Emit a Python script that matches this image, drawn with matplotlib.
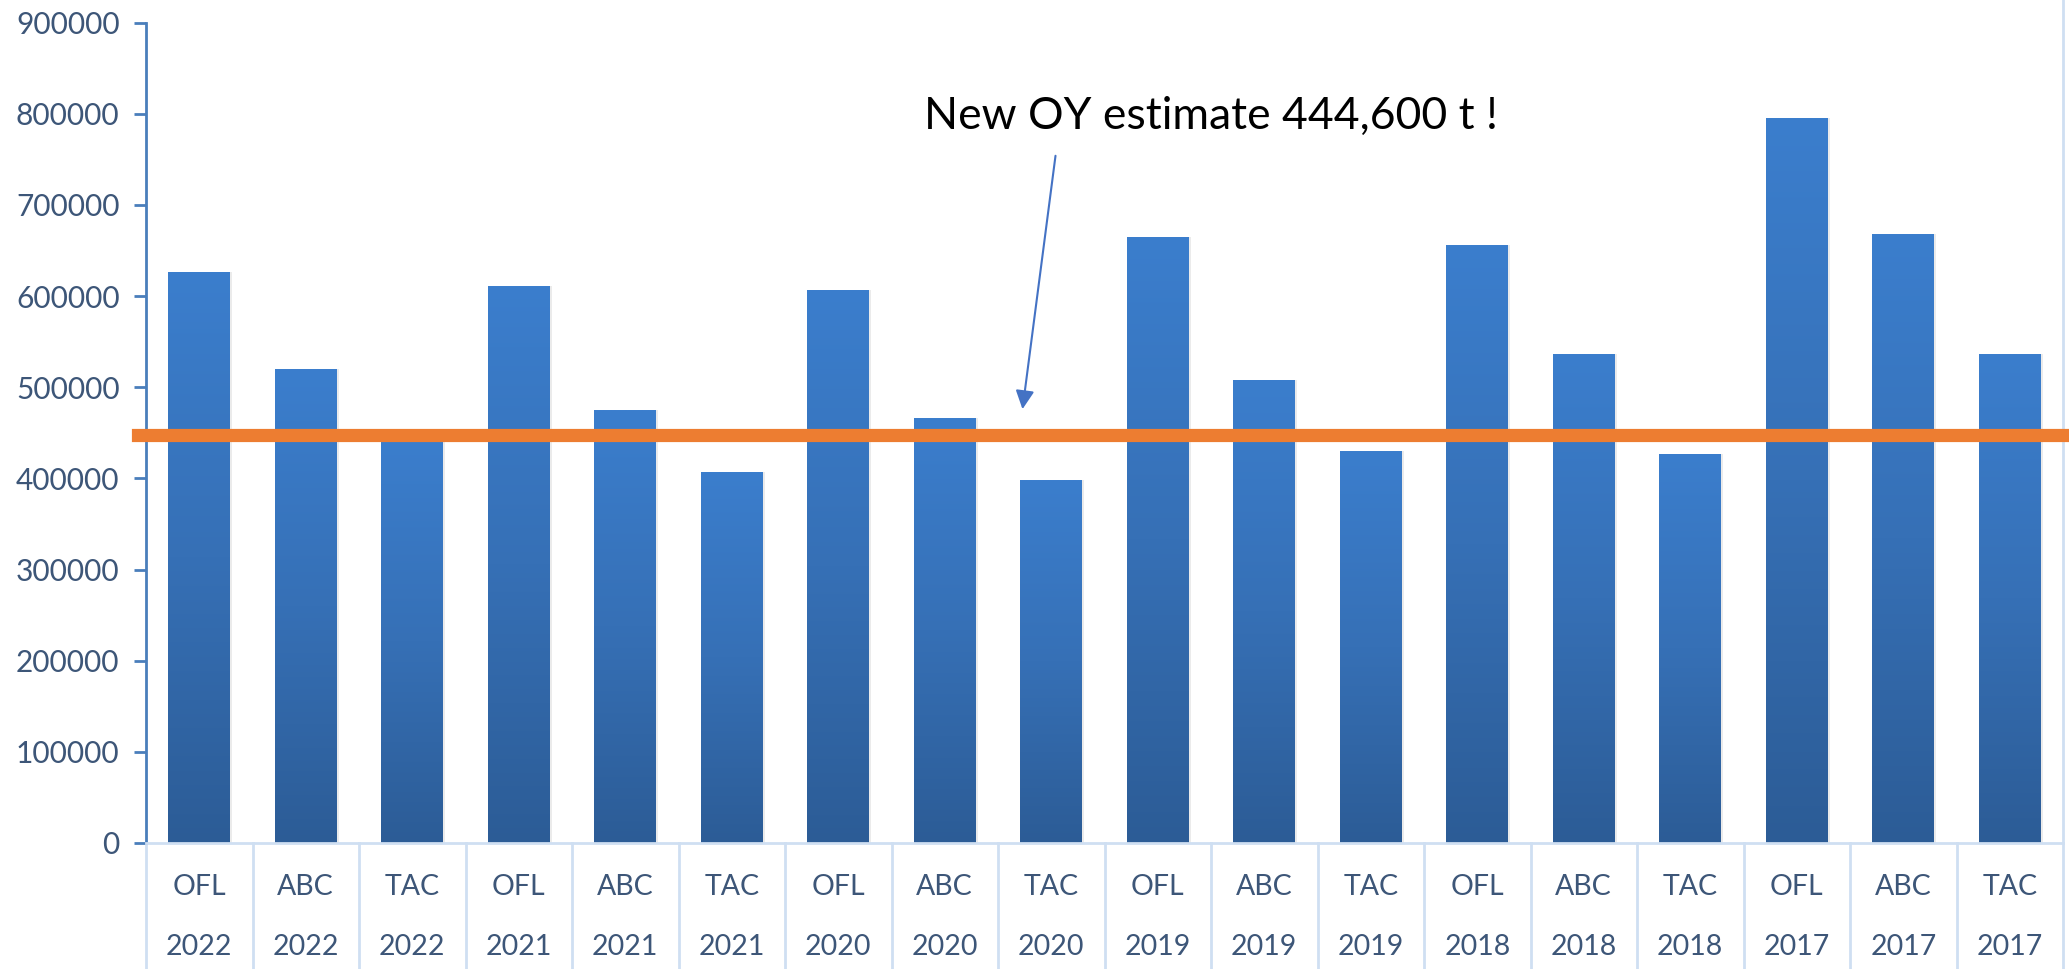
import numpy as np
import matplotlib.pyplot as plt
from matplotlib.colors import LinearSegmentedColormap
import matplotlib.transforms as mtransforms


# chart data
measures = ["OFL", "ABC", "TAC"] * 6
years = ["2022"] * 3 + ["2021"] * 3 + ["2020"] * 3 + ["2019"] * 3 + ["2018"] * 3 + ["2017"] * 3
values = [627000, 520000, 442000,
          611000, 475000, 407000,
          607000, 466000, 398000,
          665000, 508000, 430000,
          656000, 536000, 427000,
          795000, 668000, 536000]
oy_level = 448000
note_text = "New OY estimate 444,600 t !"

label_col = '#3d5678'
axis_col = '#4a7ebb'
light_col = '#cfdff2'

plt.rcParams['font.family'] = ['Lato', 'DejaVu Sans']

fig = plt.figure(figsize=(20.69, 9.69), dpi=100)
ax = fig.add_axes([146/2069, 126/969, 1917/2069, 820.3/969])

x = np.arange(len(values))
bars = ax.bar(x, values, width=0.58, color='none', edgecolor='none', zorder=2)

# vertical gradient inside each bar
cmap = LinearSegmentedColormap.from_list('bar', ['#2c5c96', '#3670b6', '#3b7ecd'])
grad = np.linspace(0, 1, 256).reshape(-1, 1)
for b in bars:
	x0 = b.get_x()
	w = b.get_width()
	h = b.get_height()
	# faint shadow to the right
	ax.bar(x0 + w/2 + 0.02, h, width=w, color='#000000', alpha=0.08, zorder=1.5)
	im = ax.imshow(grad, extent=[x0, x0 + w, 0, h], aspect='auto', cmap=cmap,
				   origin='lower', zorder=2.1)
	im.set_clip_path(b)

ax.set_xlim(-0.5, len(values) - 0.5)
ax.set_ylim(0, 900000)
ax.set_yticks(np.arange(0, 900001, 100000))
ax.set_yticklabels([str(v) for v in range(0, 900001, 100000)])
ax.set_xticks([])

for s in ['top', 'right']:
	ax.spines[s].set_visible(False)
ax.spines['left'].set_color(axis_col)
ax.spines['left'].set_linewidth(2)
ax.spines['bottom'].set_color(light_col)
ax.spines['bottom'].set_linewidth(2)
ax.tick_params(axis='y', colors=axis_col, width=2, length=9, labelsize=21.5,
			   labelcolor=label_col, pad=10)

# category table under the axis
trans = mtransforms.blended_transform_factory(ax.transData, ax.transAxes)
bottom = -126/820.3
for k in range(len(values) + 1):
	ax.plot([k - 0.5, k - 0.5], [bottom, 0], color=light_col, lw=2,
			transform=trans, clip_on=False)
ax.plot([len(values) - 0.5, len(values) - 0.5], [0, 1 + 23/820.3], color=light_col,
		lw=2, transform=trans, clip_on=False)
for i in range(len(values)):
	ax.text(i, -44/820.3, measures[i], transform=trans, ha='center', va='center',
			fontsize=20.5, color=label_col)
	ax.text(i, -104/820.3, years[i], transform=trans, ha='center', va='center',
			fontsize=20.5, color=label_col)

# OY line
ax.axhline(oy_level, xmin=-0.004, xmax=1.01, color='#ed7d31', lw=9.5,
		   clip_on=False, zorder=3)

# annotation
ax.text(9.5, 797000, note_text, ha='center', va='center', fontsize=32, color='black')
ax.annotate('', xy=(7.73, 476000), xytext=(8.04, 754000),
			arrowprops=dict(arrowstyle='-|>', color='#4472c4', lw=1.5,
							mutation_scale=28, shrinkA=0, shrinkB=0))

fig.savefig('out.png', dpi=100)
